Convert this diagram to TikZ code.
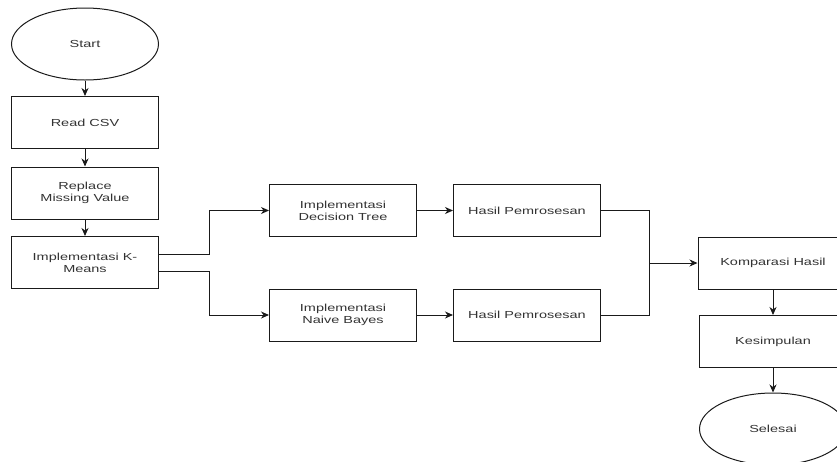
\documentclass[tikz,border=0pt]{standalone}
\usepackage{fontspec}
\setmainfont{Liberation Sans}[FakeStretch=1.42]
\usetikzlibrary{shapes.geometric,arrows.meta}
\definecolor{txt}{HTML}{333333}
\definecolor{ln}{HTML}{1A1A1A}
\begin{document}
\begin{tikzpicture}[x=1pt,y=-1pt,
  every node/.style={font=\fontsize{10.2}{12}\selectfont, text=txt, align=center},
  box/.style={draw=ln, line width=1pt, fill=white, rectangle, minimum width=147pt, minimum height=52pt, inner sep=0pt},
  oval/.style={draw=ln, line width=1pt, fill=white, ellipse, minimum width=147pt, minimum height=72pt, inner sep=0pt},
  conn/.style={draw=ln, line width=1pt},
  arr/.style={conn, -{Stealth[length=8pt,width=7pt,inset=2.5pt]}}]
\path[use as bounding box, clip] (0,0) rectangle (837,461);
\node[oval] (start) at (85,44) {Start};
\node[box] (read) at (85,122.5) {Read CSV};
\node[box] (repl) at (85,193) {Replace\\Missing Value};
\node[box] (km) at (85,262.5) {Implementasi K-\\Means};
\node[box] (dt) at (343,210.5) {Implementasi\\Decision Tree};
\node[box] (h1) at (527,210.5) {Hasil Pemrosesan};
\node[box] (nb) at (343,315) {Implementasi\\Naive Bayes};
\node[box] (h2) at (527,315) {Hasil Pemrosesan};
\node[box, minimum width=150pt] (komp) at (773,263) {Komparasi Hasil};
\node[box] (kes) at (773,341.5) {Kesimpulan};
\node[oval] (sel) at (773,429) {Selesai};
\coordinate (mx) at (649,263);
\draw[arr] (start) -- (read);
\draw[arr] (read) -- (repl);
\draw[arr] (repl) -- (km);
\draw[arr] ([yshift=8.5pt]km.east) -- ++(50,0) |- (dt.west);
\draw[arr] ([yshift=-8.5pt]km.east) -- ++(50,0) |- (nb.west);
\draw[arr] (dt) -- (h1);
\draw[arr] (nb) -- (h2);
\draw[conn] (h1.east) -| (mx) |- (h2.east);
\draw[arr] (mx) -- (komp.west);
\draw[arr] (komp) -- (kes);
\draw[arr] (kes) -- (sel);
\end{tikzpicture}
\end{document}
